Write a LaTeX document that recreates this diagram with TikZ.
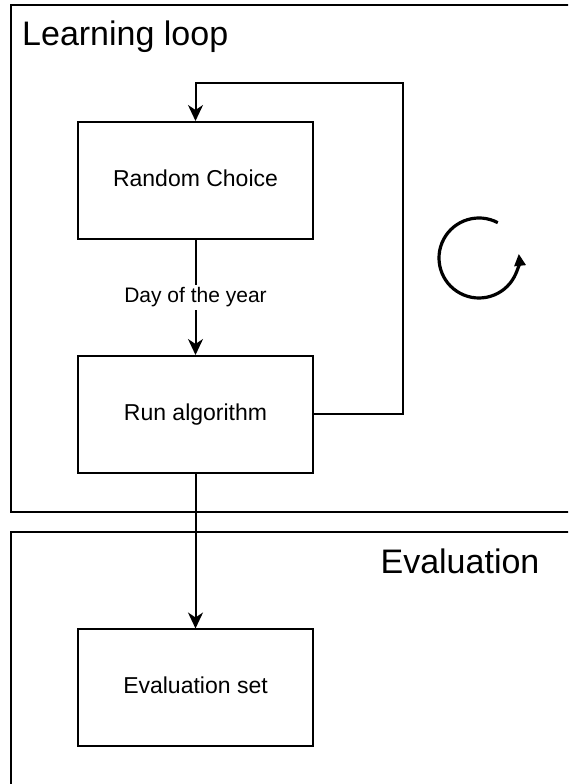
\documentclass[tikz,border=0pt]{standalone}
\usepackage{fontspec}
\setmainfont{Liberation Sans}
\usetikzlibrary{arrows.meta}
\begin{document}
\begin{tikzpicture}[x=1pt,y=1pt,
  frame/.style={draw=black, line width=2pt},
  stepbox/.style={draw=black, line width=2pt, minimum width=235pt, minimum height=117pt,
    font=\fontsize{23}{27}\selectfont, text height=16pt, text depth=4pt, inner sep=0pt},
  conn/.style={draw=black, line width=2pt, -{Stealth[length=16pt,width=15pt,inset=5pt]}},
  edgelabel/.style={fill=white, font=\fontsize{21}{25}\selectfont, inner sep=3pt},
  title/.style={font=\fontsize{34}{40}\selectfont, inner sep=0pt}
]
\clip (0,0) rectangle (568,784);
% containers
\draw[frame] (11,779) rectangle (590,272);
\draw[frame] (11,252) rectangle (590,-20);
\node[title, anchor=base west] (tl) at (22,738) {Learning loop};
\node[title, anchor=base] (te) at (460,210) {Evaluation};
% boxes
\node[stepbox] (rc) at (195.5,603.5) {Random Choice};
\node[stepbox] (ra) at (195.5,369.5) {Run algorithm};
\node[stepbox] (es) at (195.5,96) {Evaluation set};
% connectors
\coordinate (c1) at (403,701);
\draw[conn] (rc.south) -- node[edgelabel] {Day of the year} (ra.north);
\draw[conn] (ra.east) -| (c1) -| (rc.north);
\draw[conn] (ra.south) -- (es.north);
% loop symbol
\coordinate (lc) at (479,526);
\draw[line width=3.2pt, -{Triangle[length=12pt,width=11pt]}] ([shift={(62:40)}]lc) arc[start angle=62, end angle=366, radius=40];
\end{tikzpicture}
\end{document}
